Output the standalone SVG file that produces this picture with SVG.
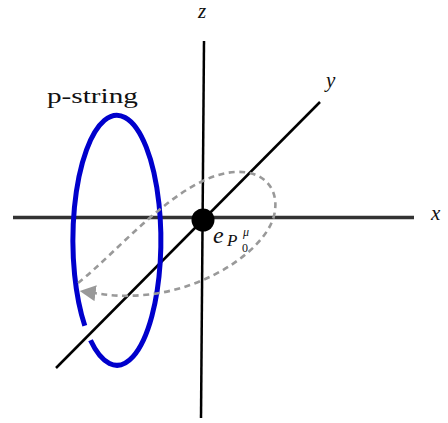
<svg xmlns="http://www.w3.org/2000/svg" width="448" height="423" viewBox="0 0 448 423">
  <style>
    .lbl { font-family: "Liberation Serif", "DejaVu Serif", serif; fill: #111; }
    .it { font-style: italic; }
    .axis { stroke: #000; stroke-width: 2.5; fill: none; }
    .dash { stroke: #999; stroke-width: 2.6; fill: none; stroke-dasharray: 6 4.5; }
  </style>
  <defs>
    <marker id="arr" viewBox="0 0 10 10" refX="1" refY="5" markerWidth="16" markerHeight="16" markerUnits="userSpaceOnUse" orient="auto">
      <path d="M0,0 L10,5 L0,10 Z" fill="#999"/>
    </marker>
  </defs>
  <rect width="448" height="423" fill="#fff"/>
  <g id="axes">
    <line x1="13" y1="217.5" x2="414" y2="217.5" stroke="#333" stroke-width="3.5"/>
    <line class="axis" x1="204" y1="41" x2="201" y2="418"/>
    <line class="axis" x1="56" y1="368" x2="320" y2="102"/>
    <text class="lbl it" x="198" y="18" font-size="21">z</text>
    <text class="lbl it" x="326" y="87" font-size="21">y</text>
    <text class="lbl it" x="431" y="220" font-size="21">x</text>
  </g>
  <g id="p-string">
    <path d="M90.5,340.3 A44 125 0 1 0 84.8,325.8" fill="none" stroke="#0000cc" stroke-width="5"/>
    <text class="lbl" x="47" y="103" font-size="22" textLength="91" lengthAdjust="spacingAndGlyphs">p-string</text>
  </g>
  <g id="connectors">
    <path class="dash" d="M78,283 C120,250 180,175 235,172 C265,170 278,190 275,210 C272,245 210,290 143,295 C120,297 108,295 94,293" marker-end="url(#arr)"/>
  </g>
  <g id="origin">
    <circle cx="203" cy="220" r="11.5" fill="#000"/>
    <text class="lbl it" x="213" y="243" font-size="24">e</text>
    <text class="lbl it" x="227" y="246" font-size="17">P</text>
    <text class="lbl it" x="243" y="236" font-size="12">μ</text>
    <text class="lbl" x="242" y="252" font-size="12">0</text>
  </g>
</svg>
